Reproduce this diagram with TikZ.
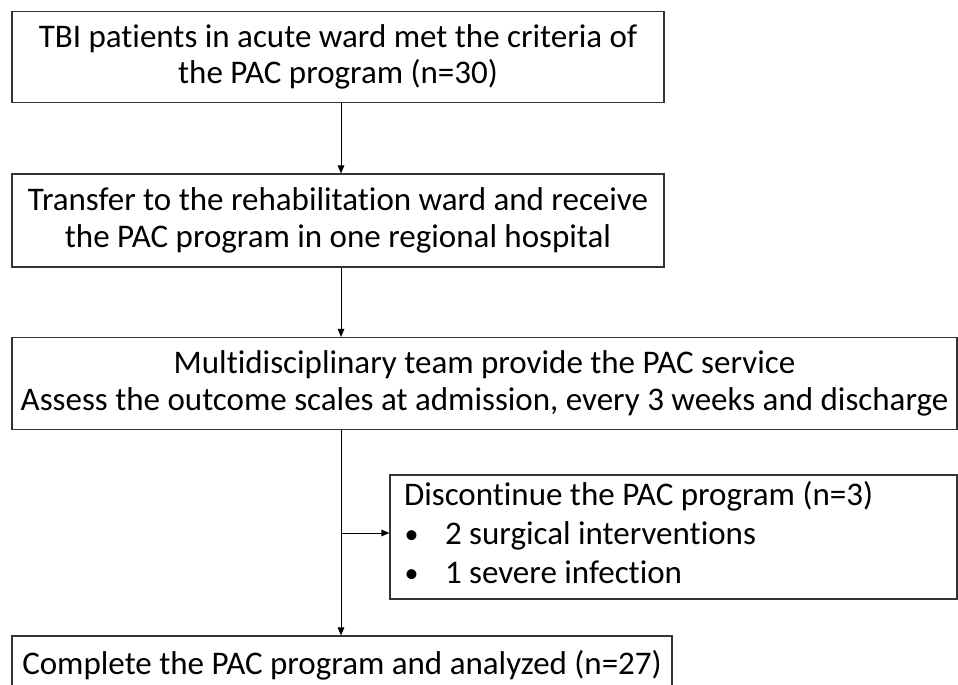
\documentclass[tikz,border=0pt]{standalone}
\usepackage{fontspec}
\setmainfont{Carlito}[Ligatures=NoCommon]
\usetikzlibrary{arrows.meta}
\newcommand{\mybullet}{\makebox[41pt][l]{\hspace{0.5pt}\raisebox{1.5pt}{\fontsize{28}{28}\selectfont •}}}
\begin{document}
\begin{tikzpicture}[x=1pt,y=-1pt,
  box/.style={draw=black!80, line width=1.1pt, align=center, inner sep=0pt, font=\fontsize{33}{36.5}\selectfont},
  arr/.style={draw=black, line width=0.9pt, -{Triangle[length=8pt,width=6.5pt]}}]
\useasboundingbox (0,0) rectangle (958,685);
\clip (0,0) rectangle (958,685);
\node[box, minimum width=652pt, minimum height=91pt] (b1) at (338,57) {TBI patients in acute ward met the criteria of\\the PAC program (n=30)};
\node[box, minimum width=652pt, minimum height=93pt] (b2) at (338,220.5) {Transfer to the rehabilitation ward and receive\\the PAC program in one regional hospital};
\node[box, minimum width=945pt, minimum height=92pt] (b3) at (484.5,383.5) {Multidisciplinary team provide the PAC service\\Assess the outcome scales at admission, every 3 weeks and discharge};
\node[box, minimum width=567pt, minimum height=124pt, align=left, font=\fontsize{33}{39}\selectfont] (b5) at (673.5,537) {\raisebox{4pt}[\height][\depth]{\parbox{539pt}{\raggedright Discontinue the PAC program (n=3)\\\mybullet 2 surgical interventions\\\mybullet 1 severe infection}}};
\node[box, minimum width=660pt, minimum height=58pt] (b4) at (342,665) {Complete the PAC program and analyzed (n=27)};
\coordinate (sp) at (341,0);
\coordinate (brk) at (341,533);
\draw[arr] (b1.south -| sp) -- (b2.north -| sp);
\draw[arr] (b2.south -| sp) -- (b3.north -| sp);
\draw[arr] (b3.south -| sp) -- (b4.north -| sp);
\draw[arr] (brk) -- (brk -| b5.west);
\end{tikzpicture}
\end{document}
